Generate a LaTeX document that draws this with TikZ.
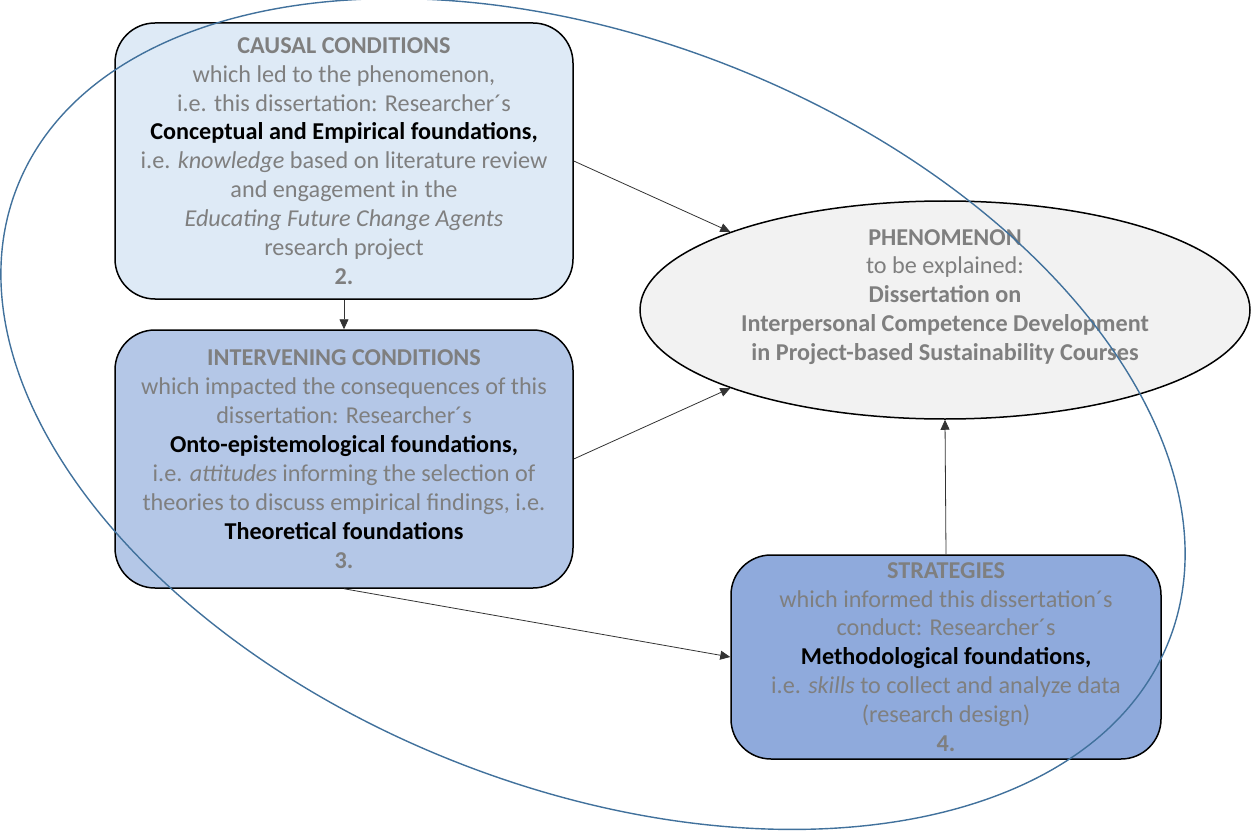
\documentclass[tikz,border=0pt]{standalone}
\usepackage{fontspec}
\setmainfont{Carlito}
\usetikzlibrary{arrows.meta,shapes.geometric}

\definecolor{textgray}{HTML}{7F7F7F}
\definecolor{causalfill}{HTML}{DEEAF6}
\definecolor{intervfill}{HTML}{B4C7E7}
\definecolor{stratfill}{HTML}{8FAADC}
\definecolor{phenfill}{HTML}{F2F2F2}
\definecolor{scopeblue}{HTML}{41719C}

\newcommand{\hd}[1]{\textbf{#1}}
\newcommand{\key}[1]{\textbf{\color{black}#1}}

\tikzset{
  condbox/.style={draw=black, line width=1.5pt, rounded corners=40pt,
    inner sep=0pt, align=center, text=textgray,
    font=\fontsize{24.2pt}{28.9pt}\selectfont},
  phenshape/.style={draw=black, line width=1.5pt, ellipse, fill=phenfill,
    inner sep=0pt},
  phenlabel/.style={align=center, text=textgray, inner sep=0pt,
    font=\fontsize{24.2pt}{28.9pt}\selectfont\bfseries},
  link/.style={draw=black!80, line width=0.8pt,
    -{Triangle[length=10pt,width=9pt]}},
  scopeline/.style={draw=scopeblue, line width=1.4pt}
}

\begin{document}
\begin{tikzpicture}[x=1pt,y=-1pt]
\useasboundingbox (0,0) rectangle (1251,832);

% causal conditions
\node[condbox, fill=causalfill, minimum width=458pt, minimum height=276pt]
  (causal) at (344,161) {%
  \hd{CAUSAL CONDITIONS}\\
  which led to the phenomenon,\\
  i.e. this dissertation: Researcher´s\\
  \key{Conceptual and Empirical foundations,}\\
  i.e. \textit{knowledge} based on literature review\\
  and engagement in the\\
  \textit{Educating Future Change Agents}\\
  research project\\
  \hd{2.}};

% intervening conditions
\node[condbox, fill=intervfill, minimum width=458pt, minimum height=258pt]
  (interv) at (344,459) {%
  \hd{INTERVENING CONDITIONS}\\
  which impacted the consequences of this\\
  dissertation: Researcher´s\\
  \key{Onto-epistemological foundations,}\\
  i.e. \textit{attitudes} informing the selection of\\
  theories to discuss empirical findings, i.e.\\
  \key{Theoretical foundations}\\
  \hd{3.}};

% strategies
\node[condbox, fill=stratfill, minimum width=430pt, minimum height=204pt]
  (strat) at (946,657) {%
  \hd{STRATEGIES}\\
  which informed this dissertation´s\\
  conduct: Researcher´s\\
  \key{Methodological foundations,}\\
  i.e. \textit{skills} to collect and analyze data\\
  (research design)\\
  \hd{4.}};

% phenomenon
\node[phenshape, minimum width=610pt, minimum height=218pt] (phen) at (945,310) {};
\node[phenlabel] (phentext) at (945,297) {%
  PHENOMENON\\
  {\mdseries to be explained:}\\
  Dissertation on\\
  Interpersonal Competence Development\\
  in Project-based Sustainability Courses};

% connectors
\draw[link] (causal.south) -- (interv.north);
\draw[link] (causal.east) -- (phen.160);
\draw[link] (interv.east) -- (phen.200);
\draw[link] (interv.south) -- (strat.west);
\draw[link] (strat.north) -- (phen.south);

% enclosing scope ellipse
\draw[scopeline, rotate around={-21.5:(593,414)}]
  (593,414) ellipse [x radius=619pt, y radius=374pt];
\end{tikzpicture}
\end{document}
